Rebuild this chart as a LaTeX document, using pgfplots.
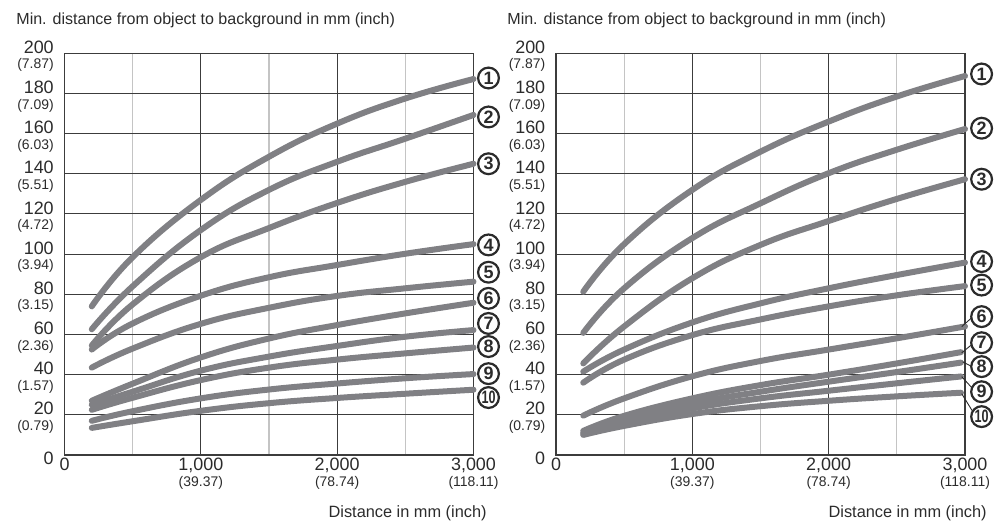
\documentclass[border=0pt]{standalone}
\usepackage{fontspec}
\setmainfont{Liberation Sans}
\usepackage{graphicx}
\usepackage{pgfplots}
\pgfplotsset{compat=1.18}

\definecolor{curve}{HTML}{808084}
\definecolor{txt}{HTML}{2b2b2b}
\definecolor{gridmaj}{HTML}{3c3c3c}
\definecolor{gridmin}{HTML}{c4c4c4}

\newcommand{\inch}[1]{{\fontsize{7}{7}\selectfont(#1)}}

\tikzset{
  lab/.style={circle, draw=txt, text=txt, line width=1.1bp, inner sep=0pt,
    minimum size=10.4bp, font=\fontsize{9}{9}\selectfont\bfseries},
  lead/.style={txt, line width=0.45bp},
  crv/.style={curve, line width=3bp, line cap=round, smooth, tension=0.75, mark=none},
}

\pgfplotsset{
  chart/.style={
    scale only axis, width=204.5bp, height=200.85bp,
    xmin=0, xmax=3000, ymin=0, ymax=200,
    axis line style={gridmaj, line width=0.6bp},
    xtick={0,1000,2000,3000}, minor xtick={500,1500,2500},
    ytick={0,20,...,200},
    major tick length=0pt, minor tick length=0pt,
    xmajorgrids, xminorgrids, ymajorgrids,
    major grid style={gridmaj, line width=0.5bp},
    minor grid style={gridmin, line width=0.55bp},
    xticklabels={0, {1,000\\[-1.2bp]\inch{39.37}}, {2,000\\[-1.2bp]\inch{78.74}}, {3,000\\[-1.2bp]\inch{118.11}}},
    yticklabels={0, {20\\[-1.2bp]\inch{0.79}}, {40\\[-1.2bp]\inch{1.57}}, {60\\[-1.2bp]\inch{2.36}},
      {80\\[-1.2bp]\inch{3.15}}, {100\\[-1.2bp]\inch{3.94}}, {120\\[-1.2bp]\inch{4.72}},
      {140\\[-1.2bp]\inch{5.51}}, {160\\[-1.2bp]\inch{6.03}}, {180\\[-1.2bp]\inch{7.09}},
      {200\\[-1.2bp]\inch{7.87}}},
    xticklabel style={align=center, text=txt, inner sep=0pt, yshift=-1.5bp,
      font=\fontsize{9}{9}\selectfont},
    yticklabel style={align=right, text=txt, inner sep=0pt, anchor=east, xshift=-5.2bp,
      yshift=-1.5bp, font=\fontsize{9}{9}\selectfont},
    clip=false,
  }
}

\begin{document}
\begin{tikzpicture}

% left chart
\begin{axis}[chart, at={(0bp,0bp)}, anchor=south west]
\addplot[crv] coordinates {(200,74) (500,98.5) (1000,127) (1500,148.5) (2000,165) (2500,177.5) (3000,187.2)};
\addplot[crv] coordinates {(200,62.6) (500,84) (1000,112) (1500,132) (2000,146) (2500,157.5) (3000,169.3)};
\addplot[crv] coordinates {(200,54.5) (500,75) (1000,98.5) (1500,113) (2000,125.5) (2500,136) (3000,145)};
\addplot[crv] coordinates {(200,52.5) (500,65.5) (1000,79.3) (1500,88.5) (2000,94.6) (2500,100.2) (3000,105)};
\addplot[crv] coordinates {(200,43.5) (500,53) (1000,65.3) (1500,73.3) (2000,79.2) (2500,83) (3000,86.3)};
\addplot[crv] coordinates {(200,27) (500,35.5) (1000,48.6) (1500,58) (2000,64.7) (2500,70.5) (3000,75.8)};
\addplot[crv] coordinates {(200,25) (500,31.5) (1000,42) (1500,49) (2000,54.3) (2500,58.9) (3000,62.2)};
\addplot[crv] coordinates {(200,22.5) (500,28.5) (1000,37.3) (1500,43.5) (2000,47.5) (2500,50.6) (3000,53.5)};
\addplot[crv] coordinates {(200,17) (500,21.8) (1000,28.2) (1500,32.6) (2000,35.6) (2500,38.2) (3000,40.3)};
\addplot[crv] coordinates {(200,13.5) (500,16.8) (1000,22) (1500,25.8) (2000,28.4) (2500,30.5) (3000,32.5)};
\node[lab, xshift=7.5bp] at (axis cs:3000,187.7) {1};
\node[lab, xshift=7.5bp] at (axis cs:3000,168.3) {2};
\node[lab, xshift=7.5bp] at (axis cs:3000,145) {3};
\node[lab, xshift=7.5bp] at (axis cs:3000,104.6) {4};
\node[lab, xshift=7.5bp] at (axis cs:3000,91) {5};
\node[lab, xshift=7.5bp] at (axis cs:3000,78) {6};
\node[lab, xshift=7.5bp] at (axis cs:3000,65.5) {7};
\node[lab, xshift=7.5bp] at (axis cs:3000,54) {8};
\node[lab, xshift=7.5bp] at (axis cs:3000,40.5) {9};
\node[lab, xshift=7.5bp] at (axis cs:3000,28.6) {\scalebox{0.7}[1]{10}};
\end{axis}

% right chart
\begin{axis}[chart, at={(245.75bp,0bp)}, anchor=south west]
\addplot[crv] coordinates {(200,81.3) (500,105) (1000,132) (1500,151) (2000,166) (2500,178.5) (3000,188.7)};
\addplot[crv] coordinates {(200,60.8) (500,83) (1000,108) (1500,125.3) (2000,140.3) (2500,152) (3000,162.3)};
\addplot[crv] coordinates {(200,45.6) (500,64) (1000,88) (1500,104.6) (2000,116.5) (2500,127.5) (3000,137.3)};
\addplot[crv] coordinates {(200,41.5) (500,52.5) (1000,66) (1500,75.5) (2000,83) (2500,89.6) (3000,95.8)};
\addplot[crv] coordinates {(200,36) (500,47.5) (1000,59.7) (1500,67.5) (2000,74) (2500,79.5) (3000,84.1)};
\addplot[crv] coordinates {(200,19.6) (500,28.2) (1000,39.2) (1500,46.8) (2000,52.5) (2500,58.1) (3000,64)};
\addplot[crv] coordinates {(200,12) (500,19.5) (1000,28.2) (1500,34.8) (2000,40) (2500,45.6) (2970,51.2)};
\addplot[crv] coordinates {(200,11.3) (500,17.8) (1000,25.7) (1500,31.5) (2000,36.5) (2500,41.3) (2970,46)};
\addplot[crv] coordinates {(200,10.6) (500,16) (1000,23.2) (1500,28.2) (2000,32) (2500,35.7) (2970,39.1)};
\addplot[crv] coordinates {(200,10) (500,14.5) (1000,20.4) (1500,24.3) (2000,27) (2500,29.2) (2970,31)};
\node[lab, xshift=8.3bp] at (axis cs:3000,189.7) {1};
\node[lab, xshift=8.3bp] at (axis cs:3000,162.7) {2};
\node[lab, xshift=8.3bp] at (axis cs:3000,137.3) {3};
\node[lab, xshift=8.3bp] at (axis cs:3000,96.3) {4};
\node[lab, xshift=8.3bp] at (axis cs:3000,84.6) {5};
\node[lab, xshift=8.3bp] at (axis cs:3000,68.9) {6};
\node[lab, xshift=8.3bp] at (axis cs:3000,55.9) {7};
\node[lab, xshift=8.3bp] at (axis cs:3000,44) {8};
\node[lab, xshift=8.3bp] at (axis cs:3000,31.5) {9};
\node[lab, xshift=8.3bp] at (axis cs:3000,19.1) {\scalebox{0.7}[1]{10}};
\draw[lead] (axis cs:2976,63.9) -- (axis cs:3045,68.1);
\draw[lead] (axis cs:2976,50.9) -- (axis cs:3045,54.7);
\draw[lead] (axis cs:2983,46.4) -- (axis cs:3045,44.2);
\draw[lead] (axis cs:2976,39.0) -- (axis cs:3050,33.5);
\draw[lead] (axis cs:2976,30.5) -- (axis cs:3058,21.5);
\end{axis}

% titles and axis labels
\node[anchor=west, text=txt, inner sep=0pt, font=\fontsize{8.05}{8.05}\selectfont] at (-24.25bp,217.5bp)
  {Min. distance from object to background in mm (inch)};
\node[anchor=west, text=txt, inner sep=0pt, font=\fontsize{8.05}{8.05}\selectfont] at (221.25bp,217.5bp)
  {Min. distance from object to background in mm (inch)};
\node[anchor=east, text=txt, inner sep=0pt, font=\fontsize{8.2}{8.2}\selectfont] at (211.25bp,-29bp)
  {Distance in mm (inch)};
\node[anchor=east, text=txt, inner sep=0pt, font=\fontsize{8.2}{8.2}\selectfont] at (461.25bp,-29bp)
  {Distance in mm (inch)};

\path[use as bounding box] (-32.25bp,-36bp) rectangle (469.25bp,227.5bp);
\end{tikzpicture}
\end{document}
